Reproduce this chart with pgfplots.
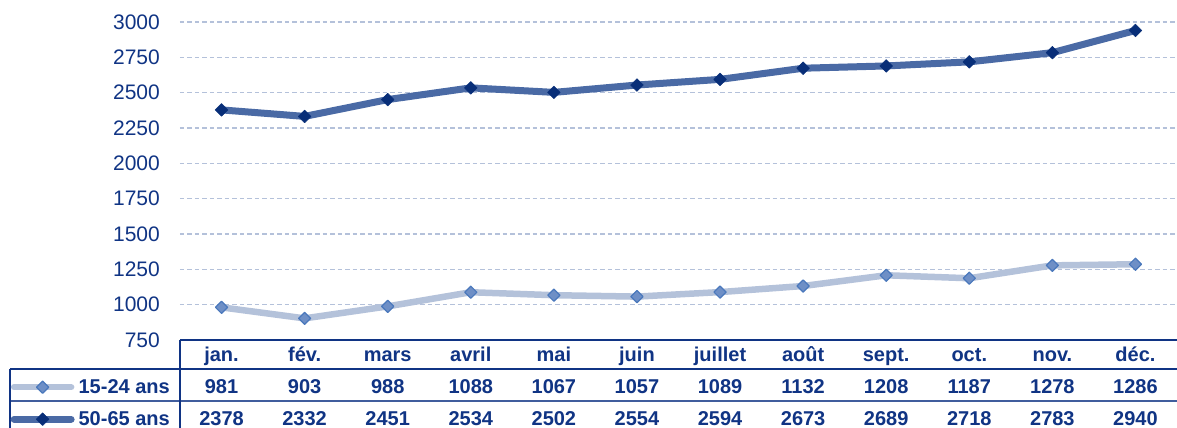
\documentclass[border=0pt]{standalone}
\usepackage{fontspec}
\setmainfont{Liberation Sans}
\usepackage{pgfplots}
\pgfplotsset{compat=1.18}
\definecolor{navy}{RGB}{16,52,132}
\definecolor{darkline}{RGB}{74,106,165}
\definecolor{darkmark}{RGB}{8,46,120}
\definecolor{lightline}{RGB}{180,194,218}
\definecolor{lightmark}{RGB}{110,143,198}
\definecolor{lightmarkdraw}{RGB}{74,120,188}
\definecolor{gridc}{RGB}{180,193,218}
\newcommand\tv[3]{%
  \node[anchor=base,font=\bfseries\fontsize{20}{24}\selectfont,text=navy,inner sep=0pt] at ([yshift=-53pt]axis cs:#1,750) {#2};%
  \node[anchor=base,font=\bfseries\fontsize{20}{24}\selectfont,text=navy,inner sep=0pt] at ([yshift=-85pt]axis cs:#1,750) {#3};}
\begin{document}
\begin{tikzpicture}
\begin{axis}[
  scale only axis, width=997pt, height=318pt,
  xmin=-0.5, xmax=11.5, ymin=750, ymax=3000,
  ytick={750,1000,...,3000},
  xtick={0,...,11},
  xticklabels={jan.,fév.,mars,avril,mai,juin,juillet,août,sept.,oct.,nov.,déc.},
  axis line style={draw=none},
  major tick length=0pt,
  ymajorgrids,
  grid style={gridc, line width=1.6pt, dash pattern=on 4.5pt off 3pt},
  clip=false,
  /pgf/number format/assume math mode=true,
  /pgf/number format/1000 sep={},
  y tick label style={font=\fontsize{21}{25}\selectfont, text=navy, inner sep=0pt, xshift=-20pt},
  x tick label style={font=\bfseries\fontsize{20}{24}\selectfont, text=navy, inner sep=0pt, anchor=base, yshift=-21pt},
  legend style={at={(rel axis cs:0,0)}, anchor=north east, xshift=-10pt, yshift=-37pt,
    draw=none, fill=none, inner sep=0pt, row sep=12pt,
    font=\bfseries\fontsize{20}{24}\selectfont, text=navy,
    nodes={inner sep=0pt, text height=16pt, text depth=4pt},
    /tikz/every odd column/.append style={column sep=4pt}},
  legend cell align=left,
  legend image code/.code={\draw[mark repeat=2,mark phase=2,#1] plot coordinates {(0pt,0pt) (28.5pt,0pt) (57pt,0pt)};},
]
\addplot[lightline, line width=6.5pt, line join=round, line cap=round,
  mark=square*, mark size=4.3pt, mark options={rotate=45, fill=lightmark, draw=lightmarkdraw, line width=1.2pt}]
  coordinates {(0,981) (1,903) (2,988) (3,1088) (4,1067) (5,1057) (6,1089) (7,1132) (8,1208) (9,1187) (10,1278) (11,1286)};
\addlegendentry{15-24 ans}
\addplot[darkline, line width=7pt, line join=round, line cap=round,
  mark=square*, mark size=4.5pt, mark options={rotate=45, fill=darkmark, draw=darkmark, line width=0.5pt}]
  coordinates {(0,2378) (1,2332) (2,2451) (3,2534) (4,2502) (5,2554) (6,2594) (7,2673) (8,2689) (9,2718) (10,2783) (11,2940)};
\addlegendentry{50-65 ans}
\draw[navy, line width=2.5pt] (rel axis cs:0,0) -- (rel axis cs:1,0);
\draw[navy, line width=1.3pt] ([xshift=-170pt,yshift=-29pt]rel axis cs:0,0) -- ([yshift=-29pt]rel axis cs:1,0);
\draw[navy!80, line width=1.3pt] ([xshift=-170pt,yshift=-61pt]rel axis cs:0,0) -- ([yshift=-61pt]rel axis cs:1,0);
\draw[navy, line width=1.3pt] (rel axis cs:0,0) -- ([yshift=-95pt]rel axis cs:0,0);
\draw[navy, line width=1.3pt] ([xshift=-170pt,yshift=-29pt]rel axis cs:0,0) -- ([xshift=-170pt,yshift=-95pt]rel axis cs:0,0);
\tv{0}{981}{2378}
\tv{1}{903}{2332}
\tv{2}{988}{2451}
\tv{3}{1088}{2534}
\tv{4}{1067}{2502}
\tv{5}{1057}{2554}
\tv{6}{1089}{2594}
\tv{7}{1132}{2673}
\tv{8}{1208}{2689}
\tv{9}{1187}{2718}
\tv{10}{1278}{2783}
\tv{11}{1286}{2940}
\coordinate (LL) at (rel axis cs:0,0);
\coordinate (UR) at (rel axis cs:1,1);
\end{axis}
\pgfresetboundingbox
\path ([xshift=-180pt,yshift=-88pt]LL) rectangle ([yshift=22pt]UR);
\end{tikzpicture}
\end{document}
